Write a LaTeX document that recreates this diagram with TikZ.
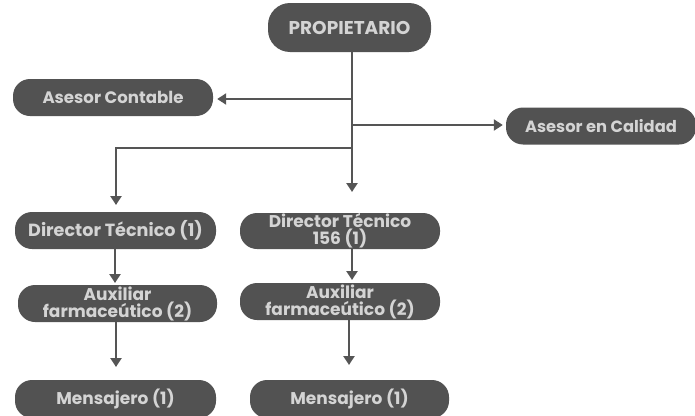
\documentclass[tikz,border=0pt]{standalone}
\usepackage{fontspec}
\setmainfont{Poppins}[BoldFont={* Bold}]
\usetikzlibrary{arrows.meta}
\definecolor{boxfill}{HTML}{525252}
\definecolor{boxtext}{HTML}{D4D4D4}
\definecolor{linec}{HTML}{555555}
\begin{document}
\begin{tikzpicture}[x=1pt,y=-1pt,
  box/.style={fill=boxfill, text=boxtext, rounded corners=17pt, font=\bfseries\fontsize{17}{17}\selectfont, align=center, inner sep=0pt},
  conn/.style={draw=linec, line width=2.6pt, -{Triangle[width=11pt,length=9pt]}}]
\useasboundingbox (0,0) rectangle (695,415);
\node[box, rounded corners=22pt, minimum width=163pt, minimum height=49pt, font=\bfseries\fontsize{18.5}{20}\selectfont] (prop) at (349.5,27.5) {PROPIETARIO};
\node[box, minimum width=200pt, minimum height=37pt, font=\bfseries\fontsize{16.6}{17}\selectfont] (contable) at (113,97.5) {Asesor Contable};
\node[box, minimum width=190pt, minimum height=37pt, font=\bfseries\fontsize{16.3}{17}\selectfont] (calidad) at (601,126) {Asesor en Calidad};
\node[box, minimum width=201pt, minimum height=37pt, font=\bfseries\fontsize{17.6}{17}\selectfont] (dt1) at (115.5,230.5) {Director Técnico (1)};
\node[box, minimum width=200pt, minimum height=36pt] (dt2) at (340,231) {Director Técnico\\156 (1)};
\node[box, minimum width=199pt, minimum height=37pt] (aux1) at (117.5,303.5) {Auxiliar\\farmaceútico (2)};
\node[box, minimum width=200pt, minimum height=37pt] (aux2) at (340,301.5) {Auxiliar\\farmaceútico (2)};
\node[box, minimum width=201pt, minimum height=38pt] (mens1) at (115.5,399) {Mensajero (1)};
\node[box, minimum width=199pt, minimum height=38pt] (mens2) at (349.5,399) {Mensajero (1)};
% connectors
\coordinate (t0) at (352,52);
\coordinate (tend) at (352,192);
\coordinate (jc) at (352,99);
\coordinate (jq) at (352,125);
\coordinate (jd) at (352,148);
\coordinate (dend) at (116,205);
\path[conn] (t0) -- (tend);
\path[conn] (jc) -- ([xshift=4pt]contable.east |- jc);
\path[conn] (jq) -- ([xshift=-3pt]calidad.west |- jq);
\path[conn] (jd) -| (dend);
\path[conn] (115,249) -- (115,283);
\path[conn] (352,249) -- (352,280);
\path[conn] (116,322) -- (116,367);
\path[conn] (349,320) -- (349,365);
\end{tikzpicture}
\end{document}
